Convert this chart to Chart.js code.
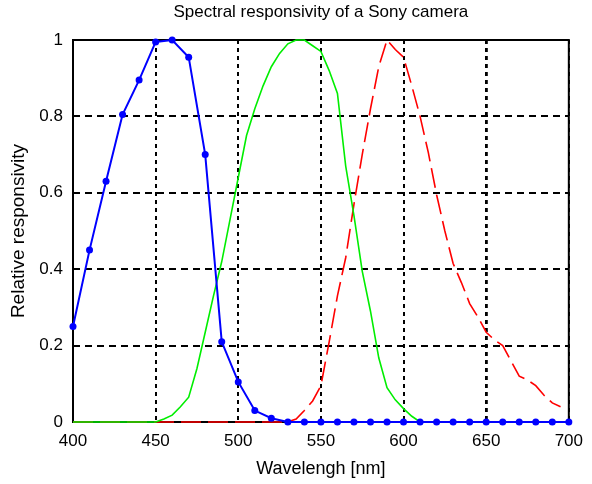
<!DOCTYPE html>
<html>
<head>
<meta charset="utf-8">
<script src="https://cdn.jsdelivr.net/npm/chart.js@4.4.1/dist/chart.umd.min.js"></script>
<style>
  html, body { margin: 0; padding: 0; background: #fff; }
  #wrap { width: 592px; height: 484px; }
</style>
</head>
<body>
<div id="wrap"><canvas id="myChart" width="592" height="484"></canvas></div>
<script>
// wavelengths (nm) and responsivity
const blueNm = [400, 410, 420, 430, 440, 450, 460, 470, 480, 490, 500, 510, 520, 530, 540, 550, 560, 570, 580, 590, 600, 610, 620, 630, 640, 650, 660, 670, 680, 690, 700];
const blueVal = [0.25, 0.45, 0.63, 0.805, 0.895, 0.995, 1.0, 0.955, 0.70, 0.21, 0.105, 0.03, 0.01, 0, 0, 0, 0, 0, 0, 0, 0, 0, 0, 0, 0, 0, 0, 0, 0, 0, 0];

const greenNm = [400, 405, 410, 415, 420, 425, 430, 435, 440, 445, 450, 455, 460, 465, 470, 475, 480, 485, 490, 495, 500, 505, 510, 515, 520, 525, 530, 535, 540, 545, 550, 555, 560, 565, 570, 575, 580, 585, 590, 595, 600, 605, 610, 615, 620, 625, 630, 635, 640, 645, 650, 655, 660, 665, 670, 675, 680, 685, 690, 695, 700];
const greenVal = [0, 0, 0, 0, 0, 0, 0, 0, 0, 0, 0, 0.008, 0.018, 0.04, 0.065, 0.14, 0.235, 0.33, 0.42, 0.53, 0.64, 0.75, 0.82, 0.88, 0.93, 0.965, 0.99, 1.0, 1.0, 0.985, 0.97, 0.92, 0.86, 0.67, 0.54, 0.395, 0.29, 0.168, 0.09, 0.058, 0.035, 0.015, 0, 0, 0, 0, 0, 0, 0, 0, 0, 0, 0, 0, 0, 0, 0, 0, 0, 0, 0];

const redNm = [400, 405, 410, 415, 420, 425, 430, 435, 440, 445, 450, 455, 460, 465, 470, 475, 480, 485, 490, 495, 500, 505, 510, 515, 520, 525, 530, 535, 540, 545, 550, 555, 560, 565, 570, 575, 580, 585, 590, 595, 600, 605, 610, 615, 620, 625, 630, 635, 640, 645, 650, 655, 660, 665, 670, 675, 680, 685, 690, 695];
const redVal = [0, 0, 0, 0, 0, 0, 0, 0, 0, 0, 0, 0, 0, 0, 0, 0, 0, 0, 0, 0, 0, 0, 0, 0, 0, 0, 0, 0.008, 0.03, 0.055, 0.095, 0.21, 0.33, 0.43, 0.57, 0.70, 0.82, 0.93, 1.0, 0.975, 0.955, 0.88, 0.80, 0.705, 0.595, 0.50, 0.415, 0.365, 0.31, 0.275, 0.235, 0.215, 0.2, 0.16, 0.12, 0.11, 0.095, 0.07, 0.05, 0.04];

// ticks
const xTicks = [400, 450, 500, 550, 600, 650, 700];
const yTicks = [0, 0.2, 0.4, 0.6, 0.8, 1];
const yTickLabels = ['0', '0.2', '0.4', '0.6', '0.8', '1'];

function toPoints(xs, ys) {
    return xs.map((x, i) => ({ x: x, y: ys[i] }));
}

// black frame round the plot area, under the curves
const framePlugin = {
    id: 'frame',
    beforeDatasetsDraw(chart) {
        const a = chart.chartArea;
        const ctx = chart.ctx;
        ctx.save();
        ctx.strokeStyle = '#000';
        ctx.lineWidth = 2;
        ctx.setLineDash([]);
        ctx.strokeRect(a.left, a.top, a.right - a.left, a.bottom - a.top);
        ctx.restore();
    }
};

const font = "'Liberation Sans', Arial, Helvetica, sans-serif";

const ctx = document.getElementById('myChart').getContext('2d');
const myChart = new Chart(ctx, {
    type: 'line',
    data: {
        datasets: [
            {
                label: 'Blue',
                data: toPoints(blueNm, blueVal),
                borderColor: '#0000ff',
                backgroundColor: '#0000ff',
                borderWidth: 2,
                pointRadius: 3.5,
                pointBorderWidth: 0,
                tension: 0,
                clip: false
            },
            {
                label: 'Green',
                data: toPoints(greenNm, greenVal),
                borderColor: '#00ee00',
                borderWidth: 1.6,
                pointRadius: 0,
                tension: 0,
                clip: false
            },
            {
                label: 'Red',
                data: toPoints(redNm, redVal),
                borderColor: '#ff0000',
                borderWidth: 1.6,
                borderDash: [20, 7],
                pointRadius: 0,
                tension: 0,
                clip: false
            }
        ]
    },
    options: {
        responsive: false,
        animation: false,
        layout: { padding: { left: 0, right: 20, top: 0, bottom: 0 } },
        plugins: {
            legend: { display: false },
            tooltip: { enabled: false },
            title: { display: false }
        },
        scales: {
            // top axis only carries the chart title, centred over the plot
            top: {
                type: 'linear',
                position: 'top',
                min: 400,
                max: 700,
                afterFit: (scale) => { scale.height = 40; },
                ticks: { display: false },
                grid: { display: false },
                border: { display: false },
                title: {
                    display: true,
                    text: 'Spectral responsivity of a Sony camera',
                    color: '#000',
                    font: { family: font, size: 17 },
                    padding: { top: 2, bottom: 0 }
                }
            },
            x: {
                type: 'linear',
                position: 'bottom',
                min: 400,
                max: 700,
                afterBuildTicks: (scale) => { scale.ticks = xTicks.map(v => ({ value: v })); },
                afterFit: (scale) => { scale.height = 62; },
                ticks: {
                    color: '#000',
                    padding: 9,
                    maxRotation: 0,
                    font: { family: font, size: 17 }
                },
                grid: {
                    color: '#000',
                    lineWidth: (c) => (c.tick && c.tick.value === 650 ? 2.8 : 2),
                    drawTicks: false
                },
                border: { display: false, dash: [4, 4] },
                title: {
                    display: true,
                    text: 'Wavelengh [nm]',
                    color: '#000',
                    font: { family: font, size: 18 },
                    padding: { top: 0, bottom: 4 }
                }
            },
            y: {
                type: 'linear',
                min: 0,
                max: 1,
                afterBuildTicks: (scale) => { scale.ticks = yTicks.map(v => ({ value: v })); },
                afterFit: (scale) => { scale.width = 73; },
                ticks: {
                    color: '#000',
                    padding: 10,
                    font: { family: font, size: 17 },
                    callback: (value) => yTickLabels[yTicks.indexOf(value)]
                },
                grid: {
                    color: '#000',
                    lineWidth: 2,
                    drawTicks: false
                },
                border: { display: false, dash: [7, 5] },
                title: {
                    display: true,
                    text: 'Relative responsivity',
                    color: '#000',
                    font: { family: font, size: 19 },
                    padding: { top: 7, bottom: 0 }
                }
            }
        }
    },
    plugins: [framePlugin]
});
</script>
</body>
</html>
